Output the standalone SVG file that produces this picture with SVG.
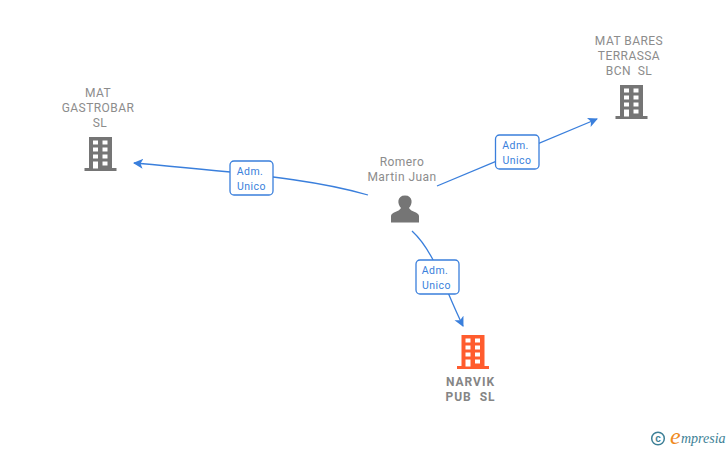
<svg xmlns="http://www.w3.org/2000/svg" width="728" height="450" viewBox="0 0 728 450">
<style>
.t{font-family:Roboto,"Liberation Sans",sans-serif;font-size:12px;fill:#8c8c8c;text-anchor:middle;letter-spacing:.45px;white-space:pre}
.b{font-weight:bold;fill:#858585;letter-spacing:1px}
.l{font-family:Roboto,"Liberation Sans",sans-serif;font-size:10.500px;fill:#3a7fdc;text-anchor:middle;letter-spacing:.45px}
.c{fill:none;stroke:#3a7fdc;stroke-width:1.300}
.box{fill:#fff;stroke:#3a7fdc;stroke-width:1.300}
.w{fill:#fff}
</style>
<defs>
<marker id="a" markerWidth="12" markerHeight="12" refX="9" refY="5" orient="auto" markerUnits="userSpaceOnUse"><path d="M0 0L10 5L0 10L2.500 5Z" fill="#3a7fdc"/></marker>
<g id="bld">
<path d="M4.500 0H27.500V31H32V34H0V31H4.500Z"/>
<g class="w">
<rect x="8.500" y="3.500" width="5" height="4"/><rect x="18" y="3.500" width="5" height="4"/>
<rect x="8.500" y="10.500" width="5" height="4"/><rect x="18" y="10.500" width="5" height="4"/>
<rect x="8.500" y="17.500" width="5" height="4"/><rect x="18" y="17.500" width="5" height="4"/>
<rect x="8.500" y="24.500" width="5" height="7"/><rect x="18" y="24.500" width="5" height="4"/>
</g>
</g>
</defs>
<g id="connectors">
<path class="c" marker-end="url(#a)" d="M368 195C330 184 285 176 134 163"/>
<path class="c" marker-end="url(#a)" d="M437 186L597 119"/>
<path class="c" marker-end="url(#a)" d="M412 231C435 252 445 290 463 326"/>
</g>
<g id="label-1"><rect class="box" x="230" y="161" width="43" height="34" rx="4"/><text class="l" x="250" y="175">Adm.</text><text class="l" x="251.500" y="190">Unico</text></g>
<g id="label-2"><rect class="box" x="495.500" y="135" width="43.500" height="34" rx="4"/><text class="l" x="515.500" y="149">Adm.</text><text class="l" x="517" y="164">Unico</text></g>
<g id="label-3"><rect class="box" x="416" y="260" width="43" height="34" rx="4"/><text class="l" x="435" y="274">Adm.</text><text class="l" x="436.500" y="289">Unico</text></g>
<g id="node-gastrobar"><text class="t" x="98" y="97">MAT</text><text class="t" x="98" y="112">GASTROBAR</text><text class="t" x="100" y="127">SL</text><use href="#bld" x="84.500" y="137" fill="#757575"/></g>
<g id="node-bares"><text class="t" x="629" y="45">MAT BARES</text><text class="t" x="629" y="60">TERRASSA</text><text class="t" x="629" y="75">BCN  SL</text><use href="#bld" x="615.500" y="85" fill="#757575"/></g>
<g id="node-romero"><text class="t" x="402" y="166">Romero</text><text class="t" x="402" y="181">Martin Juan</text><path fill="#757575" d="M391 222.500V216C391 212 399 212 401 208C397 204 397 195.500 405 195.500C413 195.500 413 204 409 208C411 212 419 212 419 216V222.500Z"/></g>
<g id="node-narvik"><use href="#bld" x="457" y="335" fill="#ff5c2e"/><text class="t b" x="470.500" y="386">NARVIK</text><text class="t b" x="470.500" y="401">PUB  SL</text></g>
<g id="logo"><circle cx="658" cy="438.500" r="6.300" fill="none" stroke="#3d7f96" stroke-width="1.500"/><text x="658" y="442" font-family="Liberation Sans,sans-serif" font-size="10" font-weight="bold" fill="#3d7f96" text-anchor="middle">c</text>
<text x="670" y="444" font-family="Liberation Serif,serif" font-style="italic" font-size="24" fill="#f08a1d">e</text><text x="681" y="443" font-family="Liberation Serif,serif" font-style="italic" font-size="14" fill="#3d7f96">mpresia</text></g>
</svg>
